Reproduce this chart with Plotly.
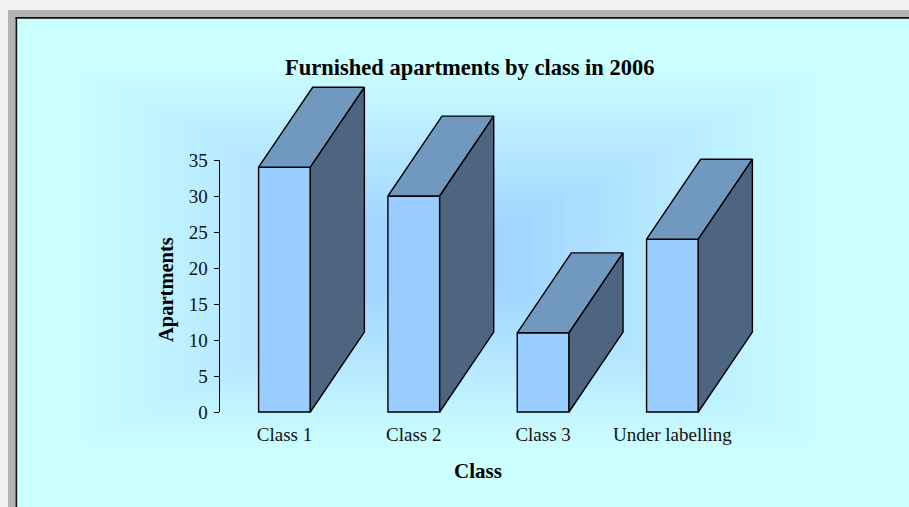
import plotly.graph_objects as go

# ---- data ----
categories = ["Class 1", "Class 2", "Class 3", "Under labelling"]
apartments = [34, 30, 11, 24]
y_ticks = [0, 5, 10, 15, 20, 25, 30, 35]
title_text = "Furnished apartments by class in 2006"
x_title = "Class"
y_title = "Apartments"

# ---- style / geometry ----
W, H = 909, 507
FRONT, TOP, SIDE, EDGE = "#99CCFF", "#7199BF", "#4D6580", "#000000"
BAR_W = 0.4          # category units
DEPTH_X = 0.418      # category units
DEPTH_Y = 11.1       # value units
FONT = "Liberation Serif"

X0_PX, CAT_PX = 219.8, 129.33   # pixel of x=-0.5, pixels per category
Y0_PX, UNIT_PX = 412.0, 7.2     # pixel of value 0, pixels per unit
x_range = [-0.5, 3.7]
y_range = [-0.3, 46]


def fx(px):
    return px / W


def fy(py):
    return 1 - py / H


x_dom = [fx(X0_PX), fx(X0_PX + (x_range[1] - x_range[0]) * CAT_PX)]
y_dom = [fy(Y0_PX - y_range[0] * UNIT_PX), fy(Y0_PX - y_range[1] * UNIT_PX)]
y3_dom = [fy(Y0_PX), fy(Y0_PX - y_ticks[-1] * UNIT_PX)]

xs = list(range(len(categories)))

tops_x, tops_y, sides_x, sides_y = [], [], [], []
for i, v in zip(xs, apartments):
    l, r = i - BAR_W / 2, i + BAR_W / 2
    tops_x += [l, r, r + DEPTH_X, l + DEPTH_X, l, None]
    tops_y += [v, v, v + DEPTH_Y, v + DEPTH_Y, v, None]
    sides_x += [r, r + DEPTH_X, r + DEPTH_X, r, r, None]
    sides_y += [0, DEPTH_Y, v + DEPTH_Y, v, 0, None]

fig = go.Figure()

fig.add_trace(go.Bar(
    x=xs, y=apartments, width=BAR_W,
    marker=dict(color=FRONT, line=dict(color=EDGE, width=1.4)),
    hoverinfo="skip", xaxis="x2", yaxis="y2"))
fig.add_trace(go.Scatter(
    x=tops_x, y=tops_y, mode="lines", fill="toself", fillcolor=TOP,
    line=dict(color=EDGE, width=1.4), hoverinfo="skip", xaxis="x2", yaxis="y2"))
fig.add_trace(go.Scatter(
    x=sides_x, y=sides_y, mode="lines", fill="toself", fillcolor=SIDE,
    line=dict(color=EDGE, width=1.4), hoverinfo="skip", xaxis="x2", yaxis="y2"))
# carrier for the value axis
fig.add_trace(go.Scatter(x=[None], y=[None], mode="lines", hoverinfo="skip",
                         xaxis="x2", yaxis="y3"))

shapes = []


def rect(x0, y0, x1, y1, color):
    shapes.append(dict(type="rect", xref="paper", yref="paper",
                       x0=fx(x0), x1=fx(x1), y0=fy(y1), y1=fy(y0),
                       fillcolor=color, line=dict(width=0), layer="below"))


# window frame
rect(0, 0, W, 10, "#F2F2F2")
rect(0, 0, 8, H, "#F2F2F2")
rect(8, 10, W, 17, "#B4B4B4")
rect(8, 10, 15.5, H, "#B4B4B4")
rect(15.5, 17, W, 18.8, "#111111")
rect(15.5, 17, 17.2, H, "#111111")

# rectangular "from centre" gradient of the chart area (banded)
cx, cy, ha, hb = 448, 256.5, 385, 197
c_in, c_out = (0x99, 0xCC, 0xFF), (0xCC, 0xFF, 0xFF)
N = 40
for k in range(N, 0, -1):
    t = k / N
    col = tuple(round(c_in[j] + (c_out[j] - c_in[j]) * t) for j in range(3))
    rect(cx - ha * t, cy - hb * t, cx + ha * t, cy + hb * t,
         "rgb(%d,%d,%d)" % col)

annotations = [
    dict(text=f"<b>{title_text}</b>", x=fx(469.5), y=fy(67.5), xref="paper", yref="paper",
         showarrow=False, xanchor="center", yanchor="middle",
         font=dict(family=FONT, size=22.5, color="#000")),
    dict(text=f"<b>{x_title}</b>", x=fx(478), y=fy(471), xref="paper", yref="paper",
         showarrow=False, xanchor="center", yanchor="middle",
         font=dict(family=FONT, size=21, color="#000")),
    dict(text=f"<b>{y_title}</b>", x=fx(166), y=fy(290), xref="paper", yref="paper",
         showarrow=False, xanchor="center", yanchor="middle", textangle=-90,
         font=dict(family=FONT, size=20.5, color="#000")),
]

fig.update_layout(
    width=W, height=H,
    margin=dict(l=0, r=0, t=0, b=0, pad=0, autoexpand=False),
    paper_bgcolor="#CCFFFF", plot_bgcolor="rgba(0,0,0,0)",
    showlegend=False, hovermode=False,
    shapes=shapes, annotations=annotations,
    xaxis2=dict(domain=x_dom, range=x_range, anchor="y2",
                tickmode="array", tickvals=xs, ticktext=categories,
                showgrid=False, zeroline=False, showline=False, ticks="",
                ticklabelstandoff=7, automargin=False,
                tickfont=dict(family=FONT, size=19, color="#111")),
    yaxis2=dict(domain=y_dom, range=y_range, anchor="x2", visible=False),
    yaxis3=dict(domain=y3_dom, range=[0, y_ticks[-1]], anchor="x2",
                tickmode="array", tickvals=y_ticks,
                ticks="outside", ticklen=5, tickwidth=1.3, tickcolor="#000",
                showline=True, linecolor="#000", linewidth=1.3,
                showgrid=False, zeroline=False, ticklabelstandoff=2, automargin=False,
                tickfont=dict(family=FONT, size=19, color="#111")),
)

fig.write_html("out.html", config={"displayModeBar": False},
               post_script="document.body.style.margin='0';")
